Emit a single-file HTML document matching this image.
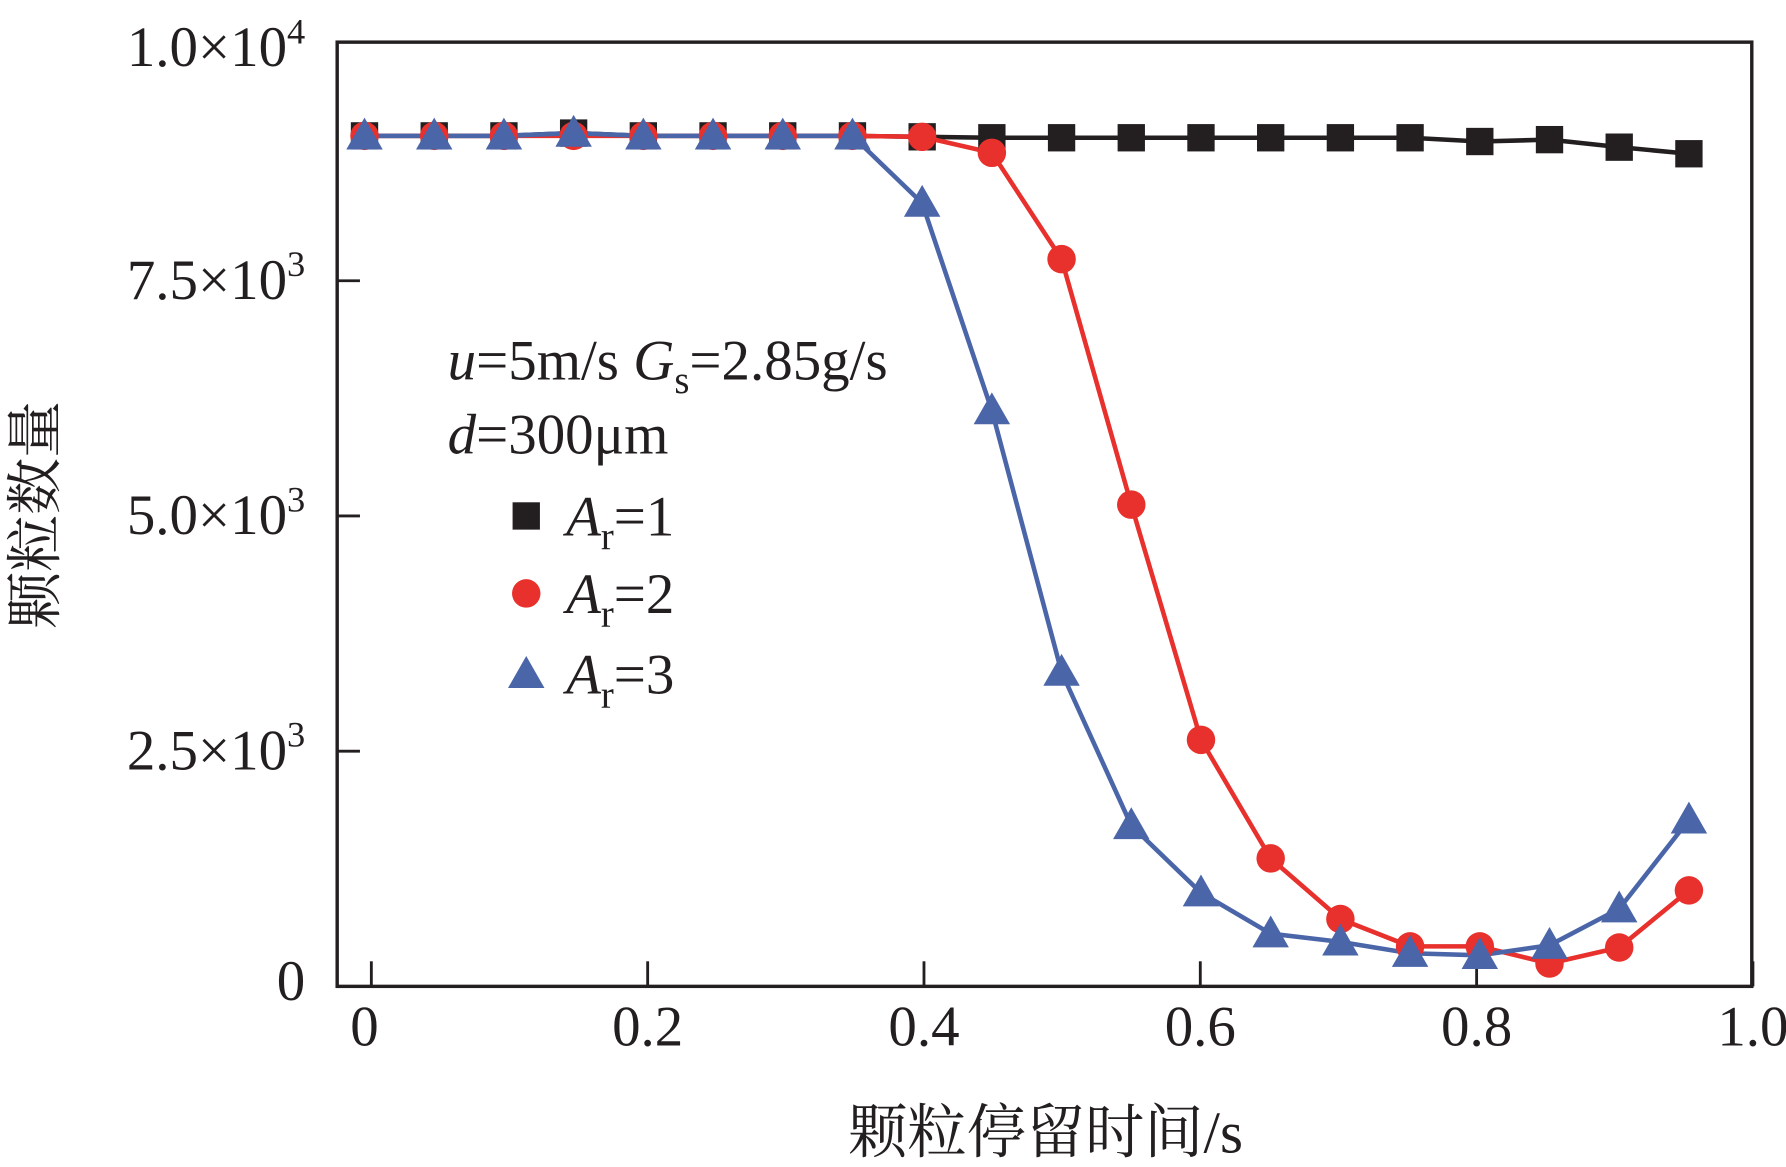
<!DOCTYPE html>
<html><head><meta charset="utf-8"><style>
html,body{margin:0;padding:0;background:#fff;}
svg{display:block;}
text{font-family:"Liberation Serif",serif;fill:#231f20;}
text.cjk{font-family:"Liberation Serif","Noto Serif CJK SC",serif;}
</style></head><body>
<svg id="chart" width="1786" height="1167" viewBox="0 0 1568 1024.6" xmlns="http://www.w3.org/2000/svg">
<g id="plot"></g>
</svg>
<script>
const times=[0,0.05,0.1,0.15,0.2,0.25,0.3,0.35,0.4,0.45,0.5,0.55,0.6,0.65,0.7,0.75,0.8,0.85,0.9,0.95];
const seriesAr1=[9040,9040,9040,9070,9040,9040,9040,9040,9030,9020,9020,9020,9020,9020,9020,9020,8980,9000,8920,8850];
const seriesAr2=[9040,9040,9040,9040,9040,9040,9040,9040,9030,8860,7730,5120,2620,1360,716,425,425,243,413,1020];
const seriesAr3=[9040,9040,9040,9070,9040,9040,9040,9040,8325,6120,3340,1710,995,560,473,352,330,437,825,1770];
const xTicks=[0,0.2,0.4,0.6,0.8,1.0];
const xTickLabels=["0","0.2","0.4","0.6","0.8","1.0"];
const yTicks=[0,2500,5000,7500,10000];
const yTickMant=["0","2.5","5.0","7.5","1.0"];
const yTickExp=["","3","3","3","4"];

const NS="http://www.w3.org/2000/svg";
const g=document.getElementById('plot');
const L=296,R=1538,T=37,B=866;
const SERIF='"Liberation Serif", serif';
function xs(t){return 320+t*1224;}
function xt(t){return 326+t*1213;}
function ys(v){return B-v*0.0826;}
function mk(tag,attrs,parent){const e=document.createElementNS(NS,tag);for(const k in attrs)e.setAttribute(k,attrs[k]);(parent||g).appendChild(e);return e;}

const frame=mk('rect',{x:L,y:T,width:R-L,height:B-T,fill:'none',stroke:'#231f20','stroke-width':3});



xTicks.forEach((t,i)=>{
  const tk=mk('line',{x1:xt(t),x2:xt(t),y1:B,y2:B-22,stroke:'#231f20','stroke-width':2.5});
  
  
  const lb=mk('text',{x:xt(t)-(i==0?6:0),y:918,'font-size':50,'text-anchor':'middle','font-family':SERIF});
  lb.textContent=xTickLabels[i];
  
  
});
yTicks.forEach((v,i)=>{
  if(i>0&&i<yTicks.length-1){
    const tk=mk('line',{x1:L,x2:L+20,y1:ys(v),y2:ys(v),stroke:'#231f20','stroke-width':2.5});
    
    
  }
  const lb=mk('text',{x:268,y:Math.max(ys(v),T+5)+(i==0?12:16),'font-size':50,'text-anchor':'end','font-family':SERIF});
  
  
  if(yTickExp[i]){
    lb.textContent=yTickMant[i]+'×10';
    const s=mk('tspan',{dy:-20,'font-size':32},lb);s.textContent=yTickExp[i];
  } else lb.textContent=yTickMant[i];
});

function line(data,color,name){
  const p=mk('polyline',{points:data.map((v,i)=>xs(times[i])+','+ys(v)).join(' '),fill:'none',stroke:color,'stroke-width':4});
  
  
}
function sq(x,y,c){return mk('rect',{x:x-12,y:y-12,width:24,height:24,fill:c});}
function ci(x,y,c){return mk('circle',{cx:x,cy:y,r:12.5,fill:c});}
function tr(x,y,c){return mk('polygon',{points:`${x},${y-16} ${x-16},${y+12} ${x+16},${y+12}`,fill:c});}

line(seriesAr1,'#231f20','line-ar1');
line(seriesAr2,'#e8302c','line-ar2');
line(seriesAr3,'#4a65a8','line-ar3');
seriesAr1.forEach((v,i)=>{const m=sq(xs(times[i]),ys(v),'#231f20');
  
  });
seriesAr2.forEach((v,i)=>{const m=ci(xs(times[i]),ys(v),'#e8302c');
  
  });
seriesAr3.forEach((v,i)=>{const m=tr(xs(times[i]),ys(v),'#4a65a8');
  
  });

function txt(x,y,html,name,size,anchor,extra,cls){
  const t=mk('text',Object.assign({x:x,y:y,'font-size':size||50,'text-anchor':anchor||'start'},extra||{}));
  if(cls)t.setAttribute('class',cls);else t.setAttribute('font-family',SERIF);
  t.innerHTML=html;
  
  
  return t;
}
txt(393,333,'<tspan font-style="italic">u</tspan>=5m/s <tspan font-style="italic">G</tspan><tspan font-size="34" dy="12">s</tspan><tspan dy="-12">=2.85g/s</tspan>','condition-label-1');
txt(393,398,'<tspan font-style="italic">d</tspan>=300μm','condition-label-2');
const legY=[453,521,592];
const legC=['#231f20','#e8302c','#4a65a8'];
[sq,ci,tr].forEach((f,i)=>{
  const m=f(462,legY[i],legC[i]);
  
  
  txt(497,legY[i]+17,'<tspan font-style="italic">A</tspan><tspan font-size="34" dy="12">r</tspan><tspan dy="-12">='+(i+1)+'</tspan>','legend-label-ar'+(i+1));
});
txt(918,1012,'颗粒停留时间/s','x-axis-title',52,'middle',null,'cjk');
txt(0,0,'颗粒数量','y-axis-title',50,'middle',{transform:'translate(48,452) rotate(-90)'},'cjk');
</script>
</body></html>
